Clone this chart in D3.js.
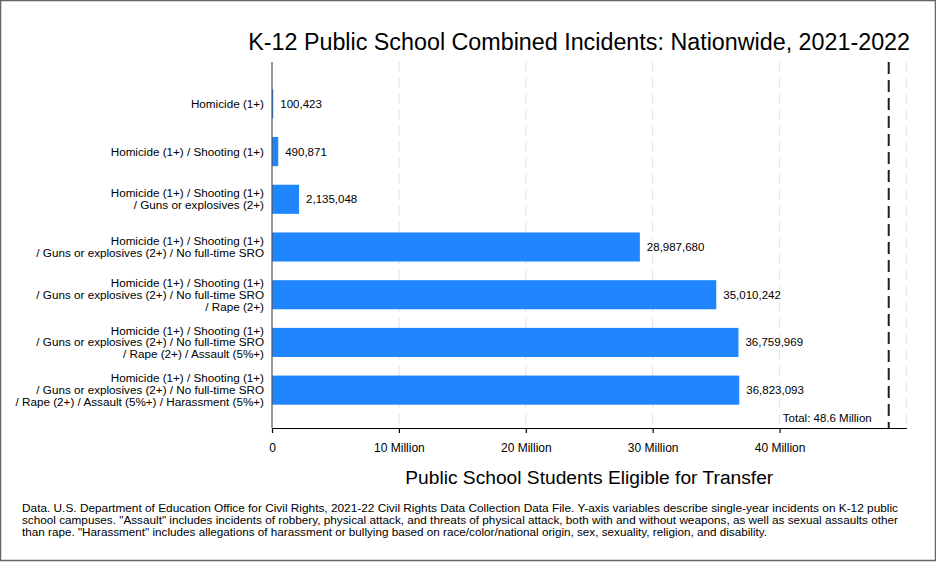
<!DOCTYPE html>
<html>
<head>
<meta charset="utf-8">
<script src="https://cdn.jsdelivr.net/npm/d3@7"></script>
<style>
  body { margin: 0; background: #fff; }
  text { font-family: "Liberation Sans", Arial, sans-serif; fill: #000; }
</style>
</head>
<body>
<script>
const categories = [
  ['Homicide (1+)'],
  ['Homicide (1+) / Shooting (1+)'],
  ['Homicide (1+) / Shooting (1+)', '/ Guns or explosives (2+)'],
  ['Homicide (1+) / Shooting (1+)', '/ Guns or explosives (2+) / No full-time SRO'],
  ['Homicide (1+) / Shooting (1+)', '/ Guns or explosives (2+) / No full-time SRO', '/ Rape (2+)'],
  ['Homicide (1+) / Shooting (1+)', '/ Guns or explosives (2+) / No full-time SRO', '/ Rape (2+) / Assault (5%+)'],
  ['Homicide (1+) / Shooting (1+)', '/ Guns or explosives (2+) / No full-time SRO', '/ Rape (2+) / Assault (5%+) / Harassment (5%+)']
];
const students = [100423, 490871, 2135048, 28987680, 35010242, 36759969, 36823093];
const total = 48.6e6;
const xTicks = [0, 10e6, 20e6, 30e6, 40e6];
const xTickLabels = ['0', '10 Million', '20 Million', '30 Million', '40 Million'];
const gridTicks = [10e6, 20e6, 30e6, 40e6, 50e6];
const footnote = [
  'Data. U.S. Department of Education Office for Civil Rights, 2021-22 Civil Rights Data Collection Data File. Y-axis variables describe single-year incidents on K-12 public',
  'school campuses. "Assault" includes incidents of robbery, physical attack, and threats of physical attack, both with and without weapons, as well as sexual assaults other',
  'than rape. "Harassment" includes allegations of harassment or bullying based on race/color/national origin, sex, sexuality, religion, and disability.'
];
const footnoteWidths = [876, 876, 745];

const W = 936, H = 562;
const svg = d3.select(document.body).append('svg')
  .attr('width', W).attr('height', H);

// outer border
svg.append('rect')
  .attr('x', 0.5).attr('y', 0.5)
  .attr('width', W - 1).attr('height', H - 2)
  .attr('fill', 'none').attr('stroke', '#666').attr('stroke-width', 1.5);

const x = d3.scaleLinear().domain([0, 50e6]).range([272, 906.5]);
const y = d3.scaleBand().domain(d3.range(categories.length)).range([80, 414]).paddingInner(0.39).paddingOuter(0.195);
const plotTop = 62, plotBottom = 428;

// grid
svg.append('g').selectAll('line').data(gridTicks).enter().append('line')
  .attr('x1', d => x(d)).attr('x2', d => x(d))
  .attr('y1', plotTop).attr('y2', plotBottom)
  .attr('stroke', '#e6e6e6').attr('stroke-width', 1.2)
  .attr('stroke-dasharray', '10,6');

// bars
svg.append('g').selectAll('rect').data(students).enter().append('rect')
  .attr('x', x(0))
  .attr('y', (d, i) => y(i))
  .attr('width', d => x(d) - x(0))
  .attr('height', y.bandwidth())
  .attr('fill', '#1f86ff');

// value labels
svg.append('g').selectAll('text').data(students).enter().append('text')
  .attr('x', d => x(d) + 7)
  .attr('y', (d, i) => y(i) + y.bandwidth() / 2 + 4)
  .attr('font-size', 11.5)
  .text(d => d3.format(',')(d));

// total line
svg.append('line')
  .attr('x1', x(total)).attr('x2', x(total))
  .attr('y1', plotTop).attr('y2', plotBottom)
  .attr('stroke', '#222').attr('stroke-width', 2)
  .attr('stroke-dasharray', '12,6');
svg.append('text')
  .attr('x', x(total) - 17).attr('y', 422)
  .attr('text-anchor', 'end').attr('font-size', 11.5)
  .text('Total: 48.6 Million');

// y axis labels
const yl = svg.append('g').selectAll('text').data(categories).enter().append('text')
  .attr('text-anchor', 'end').attr('font-size', 11.7);
yl.each(function (lines, i) {
  const cy = y(i) + y.bandwidth() / 2;
  const n = lines.length, lh = 11.8;
  d3.select(this).selectAll('tspan').data(lines).enter().append('tspan')
    .attr('x', 264)
    .attr('y', (d, j) => cy + 4 + (j - (n - 1) / 2) * lh)
    .text(d => d);
});

// y axis line
svg.append('line')
  .attr('x1', x(0)).attr('x2', x(0))
  .attr('y1', plotTop).attr('y2', plotBottom)
  .attr('stroke', '#555').attr('stroke-width', 1.2);

// x axis
const xAxis = d3.axisBottom(x).tickValues(xTicks)
  .tickFormat((d, i) => xTickLabels[i]).tickSize(5).tickSizeOuter(0);
const gx = svg.append('g').attr('transform', `translate(0,${plotBottom})`).call(xAxis);
gx.select('.domain').attr('stroke', '#000').attr('stroke-width', 1.2);
gx.selectAll('.tick line').attr('stroke', '#000').attr('stroke-width', 1.2);
gx.selectAll('.tick text').attr('font-size', 12).attr('dy', '1.3em')
  .attr('font-family', '"Liberation Sans", Arial, sans-serif').attr('fill', '#000');

// titles
svg.append('text')
  .attr('x', 910).attr('y', 50).attr('text-anchor', 'end')
  .attr('font-size', 23.3)
  .text('K-12 Public School Combined Incidents: Nationwide, 2021-2022');
svg.append('text')
  .attr('x', (x(0) + x(50e6)) / 2).attr('y', 484).attr('text-anchor', 'middle')
  .attr('font-size', 19.2)
  .text('Public School Students Eligible for Transfer');

// footnote
svg.append('g').selectAll('text').data(footnote).enter().append('text')
  .attr('x', 22).attr('y', (d, i) => 512 + i * 12)
  .attr('font-size', 11.6)
  .attr('textLength', (d, i) => footnoteWidths[i])
  .attr('lengthAdjust', 'spacingAndGlyphs')
  .text(d => d);
</script>
</body>
</html>
